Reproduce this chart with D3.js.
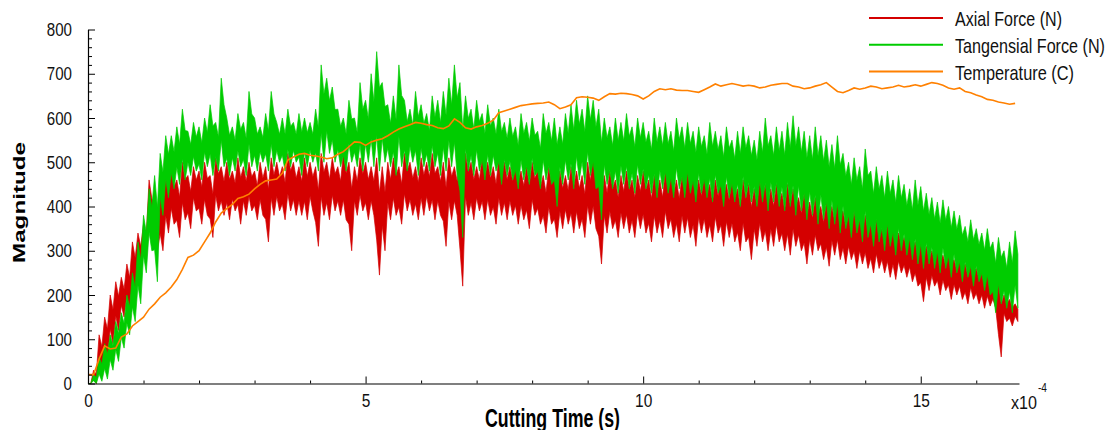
<!DOCTYPE html>
<html>
<head>
<meta charset="utf-8">
<script src="https://cdn.jsdelivr.net/npm/d3@7"></script>
<style>
  body { margin: 0; background: #fff; }
  text { font-family: "Liberation Sans", Arial, sans-serif; }
</style>
</head>
<body>
<div id="chart"></div>
<script>
// samples every 0.1 (x10^-4 s), from t = 0 to 16.7
const dt = 0.1;

// axial force (N): upper and lower edge of the noisy band
const axialHi = [
  0, 30, 110, 150, 200, 230, 240, 270, 320, 340,
  360, 460, 400, 430, 470, 480, 460, 500, 470, 490,
  480, 500, 470, 510, 490, 500, 480, 510, 490, 500,
  480, 500, 490, 510, 500, 490, 520, 500, 490, 510,
  500, 490, 520, 500, 510, 490, 520, 500, 490, 510,
  500, 490, 510, 490, 500, 510, 490, 520, 500, 490,
  510, 500, 520, 490, 500, 510, 490, 500, 520, 500,
  490, 510, 500, 490, 510, 500, 490, 500, 480, 490,
  500, 480, 470, 490, 470, 480, 470, 490, 480, 470,
  500, 520, 480, 470, 480, 460, 470, 480, 460, 470,
  480, 460, 470, 460, 480, 470, 460, 470, 480, 470,
  460, 470, 450, 460, 470, 450, 460, 440, 460, 450,
  440, 460, 450, 440, 450, 430, 450, 440, 420, 430,
  410, 420, 400, 410, 400, 430, 390, 380, 390, 370,
  380, 360, 370, 350, 360, 350, 340, 330, 340, 320,
  330, 310, 300, 310, 290, 300, 280, 290, 270, 280,
  260, 270, 250, 240, 230, 200, 190, 180
];
const axialLo = [
  0, 0, 20, 60, 90, 120, 150, 170, 200, 240,
  280, 320, 300, 300, 340, 360, 330, 370, 350, 390,
  360, 380, 330, 390, 380, 370, 390, 360, 380, 390,
  370, 380, 320, 380, 390, 370, 390, 380, 380, 370,
  390, 310, 380, 370, 390, 380, 370, 300, 380, 390,
  370, 380, 245, 300, 370, 380, 360, 390, 380, 370,
  380, 390, 370, 380, 310, 370, 380, 220, 380, 370,
  390, 370, 380, 360, 380, 370, 380, 360, 370, 350,
  380, 360, 340, 360, 330, 350, 360, 340, 350, 330,
  360, 350, 270, 340, 350, 330, 350, 340, 330, 350,
  340, 320, 340, 330, 350, 330, 320, 340, 330, 310,
  340, 330, 320, 340, 310, 330, 320, 300, 320, 280,
  310, 320, 300, 310, 320, 300, 290, 310, 300, 270,
  290, 300, 280, 265, 290, 280, 270, 280, 260, 270,
  260, 250, 260, 250, 240, 235, 250, 240, 230, 220,
  185, 210, 220, 200, 210, 190, 200, 190, 180, 190,
  180, 170, 175, 170, 60, 140, 130, 140
];

// tangential force (N)
const tangHi = [
  0, 20, 60, 90, 110, 140, 160, 200, 250, 320,
  380, 440, 470, 520, 560, 560, 580, 620, 570, 590,
  580, 600, 630, 590, 690, 600, 580, 610, 590, 660,
  600, 580, 610, 660, 590, 600, 620, 590, 610, 600,
  590, 620, 720, 690, 670, 620, 600, 640, 600, 680,
  640, 700, 750, 680, 630, 650, 720, 640, 620, 660,
  630, 610, 650, 640, 660, 690, 720, 680, 650, 620,
  640, 610, 630, 600, 620, 590, 600, 580, 610, 590,
  600, 570, 610, 590, 600, 580, 610, 630, 640, 620,
  650, 640, 620, 600, 580, 600, 590, 610, 580, 600,
  590, 570, 600, 580, 590, 570, 600, 580, 590, 570,
  580, 560, 590, 570, 560, 580, 550, 570, 580, 560,
  550, 570, 600, 560, 580, 570, 590, 605, 580, 570,
  560, 580, 560, 550, 540, 560, 520, 500, 510, 490,
  530, 480, 490, 470, 480, 460, 470, 450, 440, 460,
  445, 430, 420, 410, 415, 400, 390, 380, 355, 370,
  350, 340, 350, 320, 330, 300, 320, 345
];
const tangLo = [
  0, 0, 5, 10, 30, 50, 80, 110, 140, 180,
  250, 300, 230, 380, 420, 440, 450, 460, 470, 480,
  460, 490, 470, 480, 490, 470, 480, 490, 470, 490,
  480, 500, 480, 490, 500, 480, 490, 500, 470, 490,
  500, 480, 500, 520, 500, 490, 480, 500, 490, 480,
  500, 490, 480, 500, 490, 470, 490, 480, 500, 470,
  490, 480, 490, 470, 480, 490, 470, 330, 480, 470,
  480, 460, 470, 480, 450, 470, 460, 440, 460, 450,
  470, 440, 460, 450, 400, 450, 460, 440, 460, 450,
  470, 440, 370, 450, 440, 430, 450, 440, 430, 450,
  440, 430, 420, 440, 430, 420, 440, 420, 430, 410,
  430, 420, 410, 430, 400, 420, 410, 400, 420, 410,
  400, 410, 390, 410, 400, 390, 400, 380, 390, 370,
  380, 360, 370, 350, 360, 340, 350, 330, 340, 320,
  330, 310, 320, 300, 310, 290, 300, 290, 280, 270,
  260, 270, 260, 250, 260, 240, 250, 230, 240, 220,
  230, 210, 200, 160, 180, 170, 160, 170
];

// temperature (C)
const temp = [
  20, 20, 55, 85, 78, 80, 105, 112, 130, 140,
  150, 168, 180, 195, 205, 218, 235, 258, 285, 290,
  300, 320, 340, 365, 385, 395, 405, 418, 422, 428,
  440, 450, 458, 460, 462, 475, 505, 512, 518, 520,
  516, 514, 512, 508, 510, 518, 524, 535, 546, 545,
  538, 546, 550, 553, 560, 568, 575, 580, 585, 590,
  588, 585, 583, 578, 576, 582, 598, 590, 578, 575,
  580, 583, 588, 595, 612, 616, 620, 624, 628, 630,
  632, 633, 634, 636, 630, 621, 625, 630, 646, 648,
  647, 645, 640, 648, 655, 654, 656, 655, 653, 650,
  643, 650, 660, 666, 664, 666, 663, 662, 662, 660,
  658, 664, 670, 677, 672, 675, 678, 675, 672, 674,
  672, 668, 670, 674, 676, 678, 678, 672, 670, 666,
  668, 672, 675, 680, 670, 660, 657, 662, 668, 665,
  668, 672, 670, 666, 668, 670, 674, 670, 672, 675,
  672, 676, 680, 678, 674, 668, 665, 668, 660, 657,
  652, 648, 642, 640, 636, 634, 631, 633
];

const seriesNames = ["Axial Force (N)", "Tangensial Force (N)", "Temperature (C)"];
const colors = ["#d40000", "#00cc00", "#ff8000"];
const xTicks = [0, 5, 10, 15];
const yTicks = [0, 100, 200, 300, 400, 500, 600, 700, 800];

const width = 1113, height = 430;
const svg = d3.select("#chart").append("svg")
    .attr("width", width)
    .attr("height", height);

const x = d3.scaleLinear().domain([0, 16.77]).range([88, 1019]);
const y = d3.scaleLinear().domain([0, 800]).range([383.5, 29.5]);

// noisy band: spikes go up to hi at each sample and down to lo half a step later,
// with a solid core in between
function band(hi, lo) {
    let pts = [];
    for (let i = 0; i < hi.length; i++) {
        let r = hi[i] - lo[i];
        pts.push({t: i * dt, top: hi[i], bot: lo[i] + 0.3 * r});
        pts.push({t: i * dt + dt / 2, top: lo[i] + 0.7 * r, bot: lo[i]});
    }
    return pts;
}

const area = d3.area()
    .x(d => x(d.t))
    .y0(d => y(d.bot))
    .y1(d => y(d.top));

function drawBand(hi, lo, color) {
    svg.append("path")
        .datum(band(hi, lo))
        .attr("fill", color)
        .attr("stroke", color)
        .attr("stroke-width", 0.7)
        .attr("d", area);
}

drawBand(axialHi, axialLo, colors[0]);
drawBand(tangHi, tangLo, colors[1]);

const line = d3.line().x(d => x(d[0])).y(d => y(d[1]));
svg.append("path")
    .datum(temp.map((v, i) => [i * dt, v]))
    .attr("fill", "none")
    .attr("stroke", colors[2])
    .attr("stroke-width", 1.6)
    .attr("d", line);

// axes, ticks point inward
const yMinor = d3.range(0, 801, 20).filter(v => v % 100 !== 0);
const xMinor = d3.range(1, 17).filter(v => v % 5 !== 0);

svg.append("g")
    .attr("transform", `translate(0,${y(0)})`)
    .call(d3.axisBottom(x).tickValues(xMinor).tickSize(-3).tickSizeOuter(0).tickFormat(""))
    .call(g => g.select(".domain").remove());
svg.append("g")
    .attr("transform", `translate(${x(0)},0)`)
    .call(d3.axisLeft(y).tickValues(yMinor).tickSize(-4).tickSizeOuter(0).tickFormat(""))
    .call(g => g.select(".domain").remove());

// labels are narrow in the original, ~8.5px per digit
svg.append("g")
    .attr("transform", `translate(0,${y(0)})`)
    .call(d3.axisBottom(x).tickValues(xTicks).tickSize(-7).tickSizeOuter(0).tickPadding(10))
    .call(g => g.selectAll("text")
        .attr("font-size", 19).attr("font-family", null).attr("fill", "#111")
        .attr("textLength", d => String(d).length * 8.6)
        .attr("lengthAdjust", "spacingAndGlyphs"));
svg.append("g")
    .attr("transform", `translate(${x(0)},0)`)
    .call(d3.axisLeft(y).tickValues(yTicks).tickSize(-7).tickSizeOuter(0).tickPadding(16))
    .call(g => g.selectAll("text")
        .attr("font-size", 19).attr("font-family", null).attr("fill", "#111")
        .attr("textLength", d => String(d).length * 8.4)
        .attr("lengthAdjust", "spacingAndGlyphs"));

svg.selectAll(".domain").attr("stroke", "#000").attr("stroke-width", 1.2);

// exponent label
svg.append("text")
    .attr("x", 1011).attr("y", 409)
    .attr("font-size", 19)
    .attr("fill", "#111")
    .attr("textLength", 26)
    .attr("lengthAdjust", "spacingAndGlyphs")
    .text("x10");
svg.append("text")
    .attr("x", 1038).attr("y", 392)
    .attr("font-size", 13)
    .attr("fill", "#111")
    .attr("textLength", 9)
    .attr("lengthAdjust", "spacingAndGlyphs")
    .text("-4");

// axis titles
svg.append("text")
    .attr("x", 485).attr("y", 427)
    .attr("font-size", 26)
    .attr("font-weight", "bold")
    .attr("textLength", 135)
    .attr("lengthAdjust", "spacingAndGlyphs")
    .text("Cutting Time (s)");
svg.append("text")
    .attr("transform", "translate(25,263) rotate(-90)")
    .attr("font-size", 17)
    .attr("font-weight", "bold")
    .attr("textLength", 121)
    .attr("lengthAdjust", "spacingAndGlyphs")
    .text("Magnitude");

// legend
const legendLen = [107, 150, 119];
const legend = svg.append("g");
seriesNames.forEach((name, i) => {
    const ly = 18 + i * 26.8;
    legend.append("line")
        .attr("x1", 869).attr("x2", 943)
        .attr("y1", ly).attr("y2", ly)
        .attr("stroke", colors[i])
        .attr("stroke-width", 2);
    legend.append("text")
        .attr("x", 955).attr("y", ly + 8)
        .attr("font-size", 21)
        .attr("fill", "#111")
        .attr("textLength", legendLen[i])
        .attr("lengthAdjust", "spacingAndGlyphs")
        .text(name);
});
</script>
</body>
</html>
